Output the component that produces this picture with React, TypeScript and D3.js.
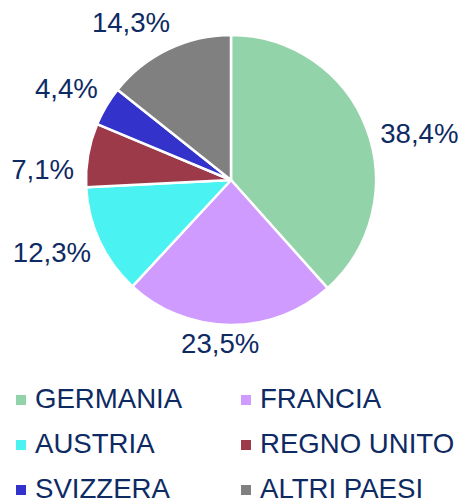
import React from "react";
import * as d3 from "d3";

const categories = ["GERMANIA", "FRANCIA", "AUSTRIA", "REGNO UNITO", "SVIZZERA", "ALTRI PAESI"];
const shares = [38.4, 23.5, 12.3, 7.1, 4.4, 14.3];
const colors = ["#93D3A9", "#CF9BFF", "#4AF2F2", "#9C3A4A", "#3333CC", "#808080"];

// layout-only tweaks for label placement (px), mimicking the original's best-fit labels
const labelNudgeX = [12, -9, -8, -9, -8, -18];
const labelNudgeY = [12, -2, 2, 17, -8, -9];

const W = 463;
const H = 501;
const CX = 231;
const CY = 180;
const R = 145;
const FONT = "'Liberation Sans', Arial, Helvetica, sans-serif";
const TEXT = "#0E2A63";
const FS = 27.6;

const fmt = (v: number) => v.toFixed(1).replace(".", ",") + "%";

export default function App() {
  const pie = d3.pie<number>().sort(null).value((d) => d);
  const arcs = pie(shares);
  const arc = d3.arc<d3.PieArcDatum<number>>().innerRadius(0).outerRadius(R);

  const labelGap = 10;
  const textH = 20;

  return (
    <svg width={W} height={H} style={{ position: "absolute", left: 0, top: 0 }}>
      <g transform={`translate(${CX},${CY})`}>
        {arcs.map((a, i) => (
          <path key={i} d={arc(a) ?? ""} fill={colors[i]} stroke="#fff" strokeWidth={2.5} strokeLinejoin="round" />
        ))}
        {arcs.map((a, i) => {
          const mid = (a.startAngle + a.endAngle) / 2;
          const s = Math.sin(mid);
          const c = Math.cos(mid);
          const ax = (R + labelGap) * s;
          const ay = -(R + labelGap) * c;
          const label = fmt(shares[i]);
          const w = label.length * 27 * 0.5;
          const cx = ax + (w / 2) * s + labelNudgeX[i];
          const cy = ay - (textH / 2) * c + labelNudgeY[i];
          return (
            <text
              key={i}
              x={cx}
              y={cy + textH / 2}
              textAnchor="middle"
              fontFamily={FONT}
              fontSize={FS}
              fill={TEXT}
            >
              {label}
            </text>
          );
        })}
      </g>
      {categories.map((cat, i) => {
        const col = i % 2;
        const row = Math.floor(i / 2);
        const x0 = col === 0 ? 16 : 241;
        const base = 408 + row * 45;
        return (
          <g key={cat}>
            <rect x={x0} y={base - 13} width={10} height={10} fill={colors[i]} />
            <text x={x0 + 19} y={base} fontFamily={FONT} fontSize={FS} fill={TEXT}>
              {cat}
            </text>
          </g>
        );
      })}
    </svg>
  );
}
